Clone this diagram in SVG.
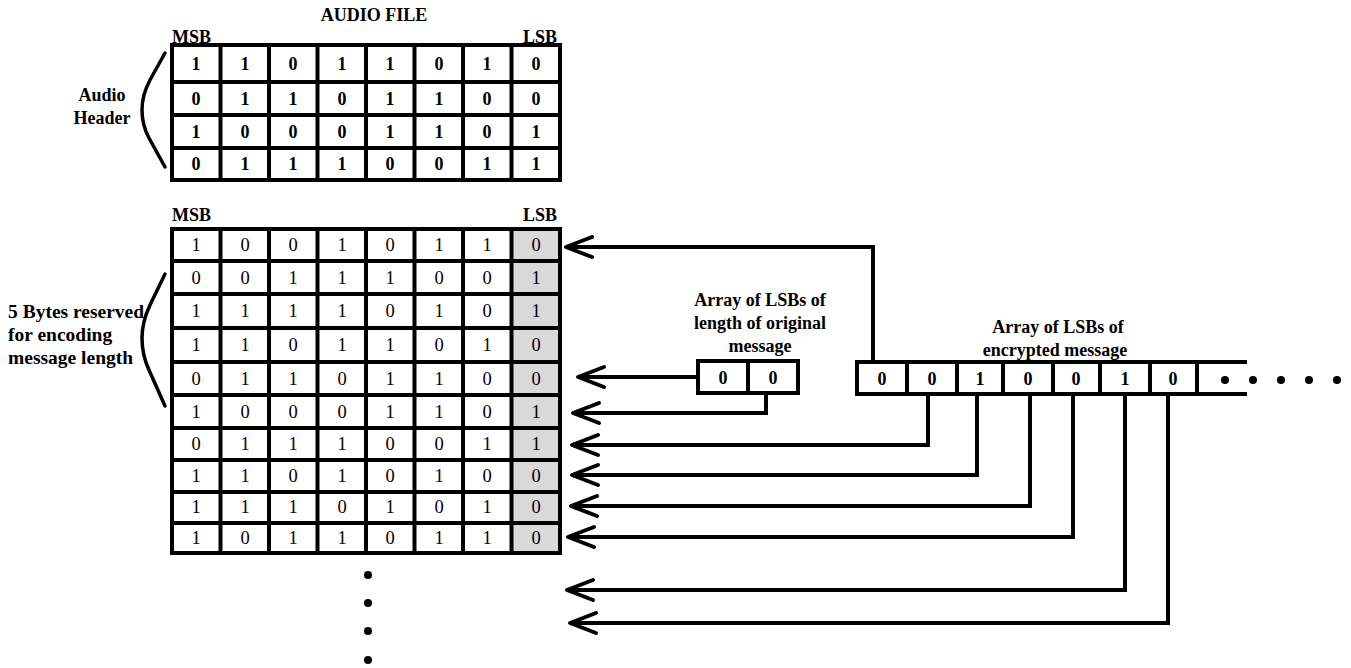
<svg xmlns="http://www.w3.org/2000/svg" width="1351" height="668" viewBox="0 0 1351 668">
<style>
.lbl{font-family:"Liberation Serif","Times New Roman",serif;font-size:18px;font-weight:bold;fill:#000}
.big{font-size:19.5px}
.dg{font-family:"Liberation Serif","Times New Roman",serif;font-size:18px;font-weight:bold;fill:#000;text-anchor:middle}
.dn{font-family:"Liberation Serif","Times New Roman",serif;font-size:18.5px;fill:#000;text-anchor:middle}
.grid{fill:none;stroke:#000;stroke-width:4}
.brace{fill:none;stroke:#000;stroke-width:3.5;stroke-linecap:round}
.conn{fill:none;stroke:#000;stroke-width:4}
</style>
<defs>
<marker id="arr" viewBox="-30 -13 33 26" refX="0" refY="0" markerWidth="33" markerHeight="26" markerUnits="userSpaceOnUse" orient="auto">
<path d="M-26,-10 L0,0 L-26,10" fill="none" stroke="#000" stroke-width="4" stroke-linejoin="round" stroke-linecap="round"/>
</marker>
</defs>
<rect width="1351" height="668" fill="#fff"/>

<g id="title">
<text class="lbl" x="374" y="21" text-anchor="middle">AUDIO FILE</text>
</g>

<g id="header-table">
<text class="lbl" x="172" y="43">MSB</text>
<text class="lbl" x="557" y="43" text-anchor="end">LSB</text>
<rect x="172" y="45" width="388" height="135" fill="#fff"/>
<path class="grid" d="M172,45H560V180H172Z M172,82H560 M172,115H560 M172,148H560 M220.5,45V180 M269,45V180 M317.5,45V180 M366,45V180 M414.5,45V180 M463,45V180 M511.5,45V180"/>
<g class="dg">
<text x="196" y="70">1</text><text x="245" y="70">1</text><text x="293" y="70">0</text><text x="342" y="70">1</text><text x="390" y="70">1</text><text x="439" y="70">0</text><text x="487" y="70">1</text><text x="536" y="70">0</text>
<text x="196" y="105">0</text><text x="245" y="105">1</text><text x="293" y="105">1</text><text x="342" y="105">0</text><text x="390" y="105">1</text><text x="439" y="105">1</text><text x="487" y="105">0</text><text x="536" y="105">0</text>
<text x="196" y="138">1</text><text x="245" y="138">0</text><text x="293" y="138">0</text><text x="342" y="138">0</text><text x="390" y="138">1</text><text x="439" y="138">1</text><text x="487" y="138">0</text><text x="536" y="138">1</text>
<text x="196" y="170">0</text><text x="245" y="170">1</text><text x="293" y="170">1</text><text x="342" y="170">1</text><text x="390" y="170">0</text><text x="439" y="170">0</text><text x="487" y="170">1</text><text x="536" y="170">1</text>
</g>
</g>

<g id="audio-header-label">
<text class="lbl" x="102" y="101" text-anchor="middle">Audio</text>
<text class="lbl" x="102" y="124" text-anchor="middle">Header</text>
<path class="brace" d="M165,53 L150,80 Q142,95 142,110 Q142,125 149,138 L165,167"/>
</g>

<g id="data-table">
<text class="lbl" x="172" y="221">MSB</text>
<text class="lbl" x="557" y="221" text-anchor="end">LSB</text>
<rect x="172" y="229" width="388" height="324" fill="#fff"/>
<rect x="511.5" y="229" width="48.5" height="324" fill="#d9d9d9"/>
<path class="grid" d="M172,229H560V553H172Z M172,261H560 M172,294H560 M172,328H560 M172,362H560 M172,395H560 M172,428H560 M172,460H560 M172,492H560 M172,523H560 M220.5,229V553 M269,229V553 M317.5,229V553 M366,229V553 M414.5,229V553 M463,229V553 M511.5,229V553"/>
<g class="dn">
<text x="196" y="251">1</text><text x="245" y="251">0</text><text x="293" y="251">0</text><text x="342" y="251">1</text><text x="390" y="251">0</text><text x="439" y="251">1</text><text x="487" y="251">1</text><text x="536" y="251">0</text>
<text x="196" y="284">0</text><text x="245" y="284">0</text><text x="293" y="284">1</text><text x="342" y="284">1</text><text x="390" y="284">1</text><text x="439" y="284">0</text><text x="487" y="284">0</text><text x="536" y="284">1</text>
<text x="196" y="317">1</text><text x="245" y="317">1</text><text x="293" y="317">1</text><text x="342" y="317">1</text><text x="390" y="317">0</text><text x="439" y="317">1</text><text x="487" y="317">0</text><text x="536" y="317">1</text>
<text x="196" y="351">1</text><text x="245" y="351">1</text><text x="293" y="351">0</text><text x="342" y="351">1</text><text x="390" y="351">1</text><text x="439" y="351">0</text><text x="487" y="351">1</text><text x="536" y="351">0</text>
<text x="196" y="385">0</text><text x="245" y="385">1</text><text x="293" y="385">1</text><text x="342" y="385">0</text><text x="390" y="385">1</text><text x="439" y="385">1</text><text x="487" y="385">0</text><text x="536" y="385">0</text>
<text x="196" y="418">1</text><text x="245" y="418">0</text><text x="293" y="418">0</text><text x="342" y="418">0</text><text x="390" y="418">1</text><text x="439" y="418">1</text><text x="487" y="418">0</text><text x="536" y="418">1</text>
<text x="196" y="450">0</text><text x="245" y="450">1</text><text x="293" y="450">1</text><text x="342" y="450">1</text><text x="390" y="450">0</text><text x="439" y="450">0</text><text x="487" y="450">1</text><text x="536" y="450">1</text>
<text x="196" y="482">1</text><text x="245" y="482">1</text><text x="293" y="482">0</text><text x="342" y="482">1</text><text x="390" y="482">0</text><text x="439" y="482">1</text><text x="487" y="482">0</text><text x="536" y="482">0</text>
<text x="196" y="513">1</text><text x="245" y="513">1</text><text x="293" y="513">1</text><text x="342" y="513">0</text><text x="390" y="513">1</text><text x="439" y="513">0</text><text x="487" y="513">1</text><text x="536" y="513">0</text>
<text x="196" y="544">1</text><text x="245" y="544">0</text><text x="293" y="544">1</text><text x="342" y="544">1</text><text x="390" y="544">0</text><text x="439" y="544">1</text><text x="487" y="544">1</text><text x="536" y="544">0</text>
</g>
<g fill="#000">
<circle cx="368" cy="575" r="4"/><circle cx="368" cy="603" r="4"/><circle cx="368" cy="631" r="4"/><circle cx="368" cy="660" r="4"/>
</g>
</g>

<g id="reserved-label">
<text class="lbl big" x="8" y="318">5 Bytes reserved</text>
<text class="lbl big" x="8" y="341">for encoding</text>
<text class="lbl big" x="8" y="364">message length</text>
<path class="brace" d="M165,274 L150,305 Q142,322 142,338 Q142,355 149,370 L165,406"/>
</g>

<g id="length-array">
<text class="lbl" x="760" y="306" text-anchor="middle">Array of LSBs of</text>
<text class="lbl" x="760" y="329" text-anchor="middle">length of original</text>
<text class="lbl" x="760" y="352" text-anchor="middle">message</text>
<rect x="698" y="361" width="100" height="32" fill="#fff" stroke="#000" stroke-width="4"/>
<line x1="748" y1="361" x2="748" y2="393" stroke="#000" stroke-width="4"/>
<text class="dg" x="723" y="384">0</text>
<text class="dg" x="773" y="384">0</text>
</g>

<g id="message-array">
<text class="lbl" x="1058" y="333" text-anchor="middle">Array of LSBs of</text>
<text class="lbl" x="1055" y="356" text-anchor="middle">encrypted message</text>
<path class="grid" d="M1247,362H857V394H1247 M907,362V394 M957,362V394 M1003,362V394 M1053,362V394 M1100,362V394 M1150,362V394 M1197,362V394"/>
<g class="dg">
<text x="882" y="385">0</text><text x="932" y="385">0</text><text x="980" y="385">1</text><text x="1028" y="385">0</text><text x="1076" y="385">0</text><text x="1125" y="385">1</text><text x="1173" y="385">0</text>
</g>
<g fill="#000">
<circle cx="1225" cy="380" r="4"/><circle cx="1253" cy="380" r="4"/><circle cx="1281" cy="380" r="4"/><circle cx="1309" cy="380" r="4"/><circle cx="1337" cy="380" r="4"/>
</g>
</g>

<g id="connectors" class="conn">
<path class="conn" d="M873,362V247H566" marker-end="url(#arr)"/>
<path class="conn" d="M698,377H578" marker-end="url(#arr)"/>
<path class="conn" d="M766,393V413H573" marker-end="url(#arr)"/>
<path class="conn" d="M928,394V445H572" marker-end="url(#arr)"/>
<path class="conn" d="M977,394V475H572" marker-end="url(#arr)"/>
<path class="conn" d="M1030,394V506H571" marker-end="url(#arr)"/>
<path class="conn" d="M1073,394V537H568" marker-end="url(#arr)"/>
<path class="conn" d="M1125,394V590H567" marker-end="url(#arr)"/>
<path class="conn" d="M1168,394V623H570" marker-end="url(#arr)"/>
</g>
</svg>
